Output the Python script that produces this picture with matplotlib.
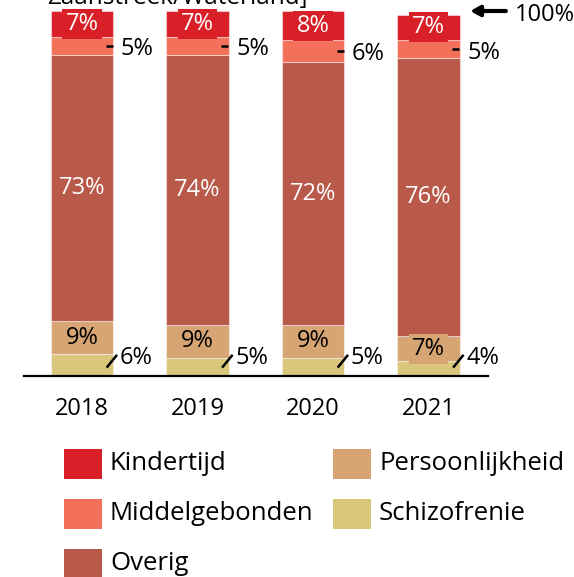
import matplotlib.pyplot as plt
from matplotlib.patches import Rectangle

plt.rcParams['font.family'] = ['Open Sans', 'DejaVu Sans']

# Share per category, per year (percent)
years = ['2018', '2019', '2020', '2021']
categories = ['Schizofrenie', 'Persoonlijkheid', 'Overig', 'Middelgebonden', 'Kindertijd']
schizofrenie = [6, 5, 5, 4]
persoonlijkheid = [9, 9, 9, 7]
overig = [73, 74, 72, 76]
middelgebonden = [5, 5, 6, 5]
kindertijd = [7, 7, 8, 7]

colors = {
    'Kindertijd': '#D92029',
    'Middelgebonden': '#F3705A',
    'Overig': '#B9594A',
    'Persoonlijkheid': '#D7A573',
    'Schizofrenie': '#DAC77C',
}
series = {
    'Schizofrenie': schizofrenie,
    'Persoonlijkheid': persoonlijkheid,
    'Overig': overig,
    'Middelgebonden': middelgebonden,
    'Kindertijd': kindertijd,
}

W, H = 574, 577
fs = 17
fig = plt.figure(figsize=(W / 100, H / 100), dpi=100)
ax = fig.add_axes([24 / W, (H - 376) / H, (488 - 24) / W, 365 / H])

x = list(range(len(years)))
bw = 0.537
bottoms = [0] * len(years)
for cat in categories:
    vals = series[cat]
    ax.bar(x, vals, width=bw, bottom=bottoms, color=colors[cat],
           edgecolor=(1, 1, 1, 0.45), linewidth=0.8)
    for i, v in enumerate(vals):
        mid = bottoms[i] + v / 2
        right = i + bw / 2
        if cat in ('Kindertijd', 'Overig', 'Persoonlijkheid'):
            tc = 'black' if cat == 'Persoonlijkheid' else 'white'
            ax.text(i, mid, f'{v}%', ha='center', va='center', color=tc,
                    fontsize=fs, zorder=4,
                    bbox=dict(facecolor=colors[cat], edgecolor='none', pad=2.2))
        elif cat == 'Middelgebonden':
            ax.plot([right - 0.062, right - 0.004], [mid, mid], color='black',
                    lw=1.8, solid_capstyle='butt', zorder=5, clip_on=False)
            ax.text(right + 0.066, mid - 0.9, f'{v}%', ha='left', va='center',
                    fontsize=fs, clip_on=False)
        else:
            ax.plot([right - 0.055, right + 0.035], [2.3, 5.8], color='black',
                    lw=1.8, solid_capstyle='butt', zorder=5, clip_on=False)
            ax.text(right + 0.058, 4.9, f'{v}%', ha='left', va='center',
                    fontsize=fs, clip_on=False)
    bottoms = [b + v for b, v in zip(bottoms, vals)]

# arrow marking the 100% level
ax.annotate('', xy=(3.36, 100), xytext=(3.67, 100), annotation_clip=False,
            arrowprops=dict(arrowstyle='-|>,head_length=0.55,head_width=0.3',
                            lw=3, color='black', shrinkA=0, shrinkB=0))
ax.text(3.75, 99.0, '100%', ha='left', va='center', fontsize=fs, clip_on=False)

ax.set_xlim(-(82 - 24) / 115.5, (488 - 82) / 115.5)
ax.set_ylim(0, 100)
ax.set_xticks(x)
ax.set_xticklabels(years, fontsize=fs)
ax.tick_params(axis='x', length=0, pad=15)
ax.set_yticks([])
for s in ('top', 'left', 'right'):
    ax.spines[s].set_visible(False)
ax.spines['bottom'].set_linewidth(1.6)

fig.text(47 / W, 1 - 3.5 / H, 'Zaanstreek/Waterland]', ha='left',
         va='baseline', fontsize=17.5)

# legend, two columns
legend_order = [('Kindertijd', 64, 449), ('Middelgebonden', 64, 499), ('Overig', 64, 549),
                ('Persoonlijkheid', 333, 449), ('Schizofrenie', 333, 499)]
for name, px, py in legend_order:
    fig.add_artist(Rectangle((px / W, 1 - (py + 30) / H), 38 / W, 30 / H,
                             transform=fig.transFigure, facecolor=colors[name],
                             edgecolor='none'))
    fig.text((px + 46) / W, 1 - (py + 15) / H, name, ha='left', va='center',
             fontsize=18.5)

fig.savefig('out.png', dpi=100)
